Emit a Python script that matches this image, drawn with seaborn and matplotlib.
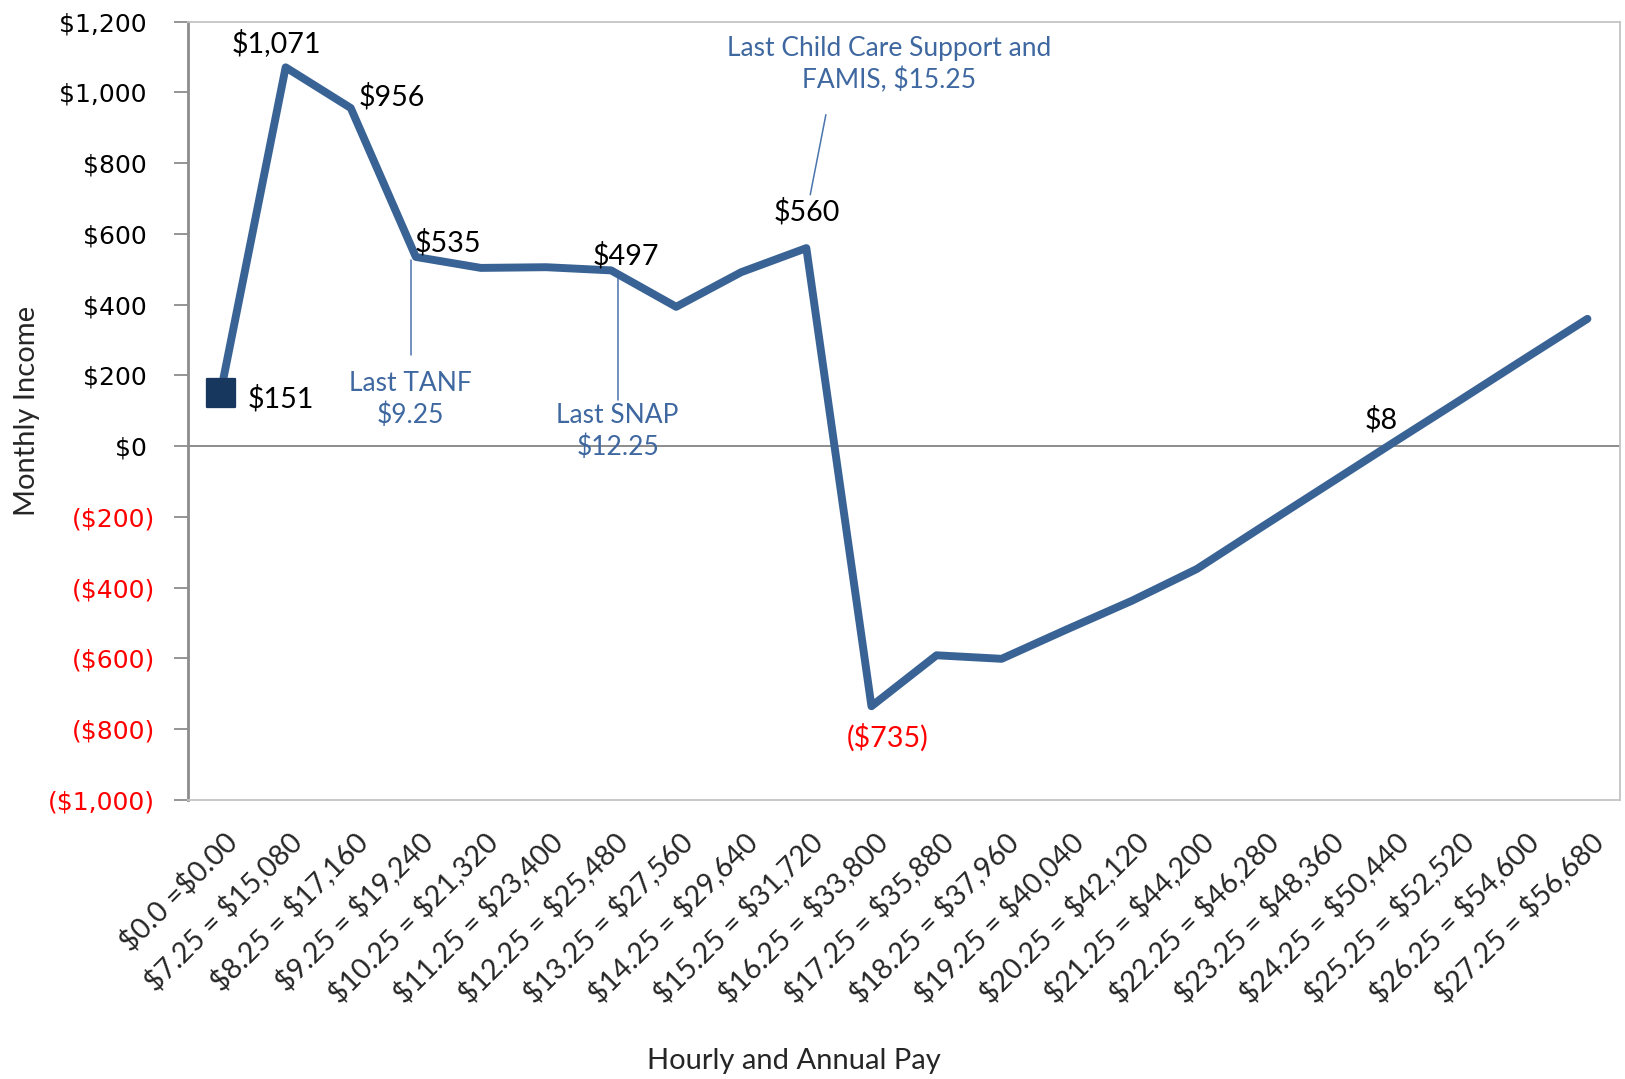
import matplotlib
matplotlib.use("Agg")
import matplotlib.pyplot as plt
import pandas as pd
import seaborn as sns
from matplotlib.transforms import ScaledTranslation

# data
pay_labels = ['$0.0 =$0.00', '$7.25 = $15,080', '$8.25 = $17,160', '$9.25 = $19,240',
              '$10.25 = $21,320', '$11.25 = $23,400', '$12.25 = $25,480', '$13.25 = $27,560',
              '$14.25 = $29,640', '$15.25 = $31,720', '$16.25 = $33,800', '$17.25 = $35,880',
              '$18.25 = $37,960', '$19.25 = $40,040', '$20.25 = $42,120', '$21.25 = $44,200',
              '$22.25 = $46,280', '$23.25 = $48,360', '$24.25 = $50,440', '$25.25 = $52,520',
              '$26.25 = $54,600', '$27.25 = $56,680']
monthly_income = [151, 1071, 956, 535, 504, 506, 497, 394, 492, 560, -735,
                  -591, -601, -518, -437, -347, -228, -110, 8, 125, 243, 360]

# which points get a value label, and the label offset in pixels (dx, dy up)
label_idx = [0, 1, 2, 3, 6, 9, 10, 18]
label_off = [(27, -6), (-9, 24), (8, 11), (-1, 14), (15, 15), (0, 36), (16, -31), (-11, 24)]
label_ha = ['left', 'center', 'left', 'left', 'center', 'center', 'center', 'center']

# program cut-off notes: text, text position, leader line
notes = ['Last TANF\n$9.25', 'Last SNAP\n$12.25', 'Last Child Care Support and\nFAMIS, $15.25']
note_xy = [(2.91, 132), (6.1, 41), (10.27, 1078)]
leader_x = [(2.93, 2.93), (6.1, 6.1), (9.30, 9.06)]
leader_y = [(527, 258), (483, 132), (937, 711)]

df = pd.DataFrame({'pos': range(len(pay_labels)), 'income': monthly_income})

sns.set_style('white')
plt.rcParams['font.family'] = ['Lato', 'DejaVu Sans']
plt.rcParams['text.parse_math'] = False

LINE = '#3A6395'
NOTE = '#3F68A0'

fig = plt.figure(figsize=(16.25, 10.79), dpi=100)
ax = fig.add_axes([0.1157, 0.2586, 0.8812, 0.7213])

ax.axhline(0, color='#8C8C8C', lw=1.4, zorder=1)
sns.lineplot(data=df, x='pos', y='income', color=LINE, lw=5.7, ax=ax, zorder=3)
sns.scatterplot(data=df.iloc[:1], x='pos', y='income', marker='s', s=430,
                color='#17375E', edgecolor='#17375E', ax=ax, zorder=4)

ax.set_xlim(-0.5, len(pay_labels) - 0.5)
ax.set_ylim(-1000, 1200)

# y axis, accounting style
yt = list(range(-1000, 1201, 200))
ax.set_yticks(yt)
ylab = [f'${v:,} ' if v >= 0 else f'(${-v:,})' for v in yt]
ax.set_yticklabels(ylab, fontfamily='DejaVu Sans', fontsize=18)
for t, v in zip(ax.get_yticklabels(), yt):
    t.set_color('red' if v < 0 else 'black')
ax.tick_params(axis='y', length=10, width=1.3, color='#8C8C8C', pad=14, left=True)

ax.set_xticks(df['pos'])
ax.set_xticklabels(pay_labels, rotation=45, ha='right', rotation_mode='anchor',
                   va='center', fontsize=20.5)
ax.tick_params(axis='x', length=0, pad=27)
shift = ScaledTranslation(12 / 100, 0, fig.dpi_scale_trans)
for t in ax.get_xticklabels():
    t.set_transform(t.get_transform() + shift)

for side in ['top', 'right', 'bottom']:
    ax.spines[side].set_color('#C4C4C4')
    ax.spines[side].set_linewidth(1.3)
ax.spines['left'].set_color('#8C8C8C')
ax.spines['left'].set_linewidth(2)

ax.set_ylabel('Monthly Income', fontsize=21, va='center')
ax.yaxis.set_label_coords(-161 / 1432, 0.5)
ax.set_xlabel('Hourly and Annual Pay', fontsize=21, va='center')
ax.xaxis.set_label_coords(0.423, -0.335)

# value labels
for i, (dx, dy), ha in zip(label_idx, label_off, label_ha):
    v = monthly_income[i]
    txt = f'${v:,}' if v >= 0 else f'(${-v:,})'
    ax.annotate(txt, (i, v), xytext=(dx * 0.72, dy * 0.72), textcoords='offset points',
                ha=ha, va='center', fontsize=20.7, color='black' if v >= 0 else 'red', zorder=5)

# notes with leader lines
for n, (tx, ty), lx, ly in zip(notes, note_xy, leader_x, leader_y):
    ax.text(tx, ty, n, ha='center', va='center', fontsize=19, color=NOTE, linespacing=1.3)
    ax.plot(lx, ly, color='#4A74AC', lw=1.1, zorder=2)

fig.savefig('out.png', dpi=100)
